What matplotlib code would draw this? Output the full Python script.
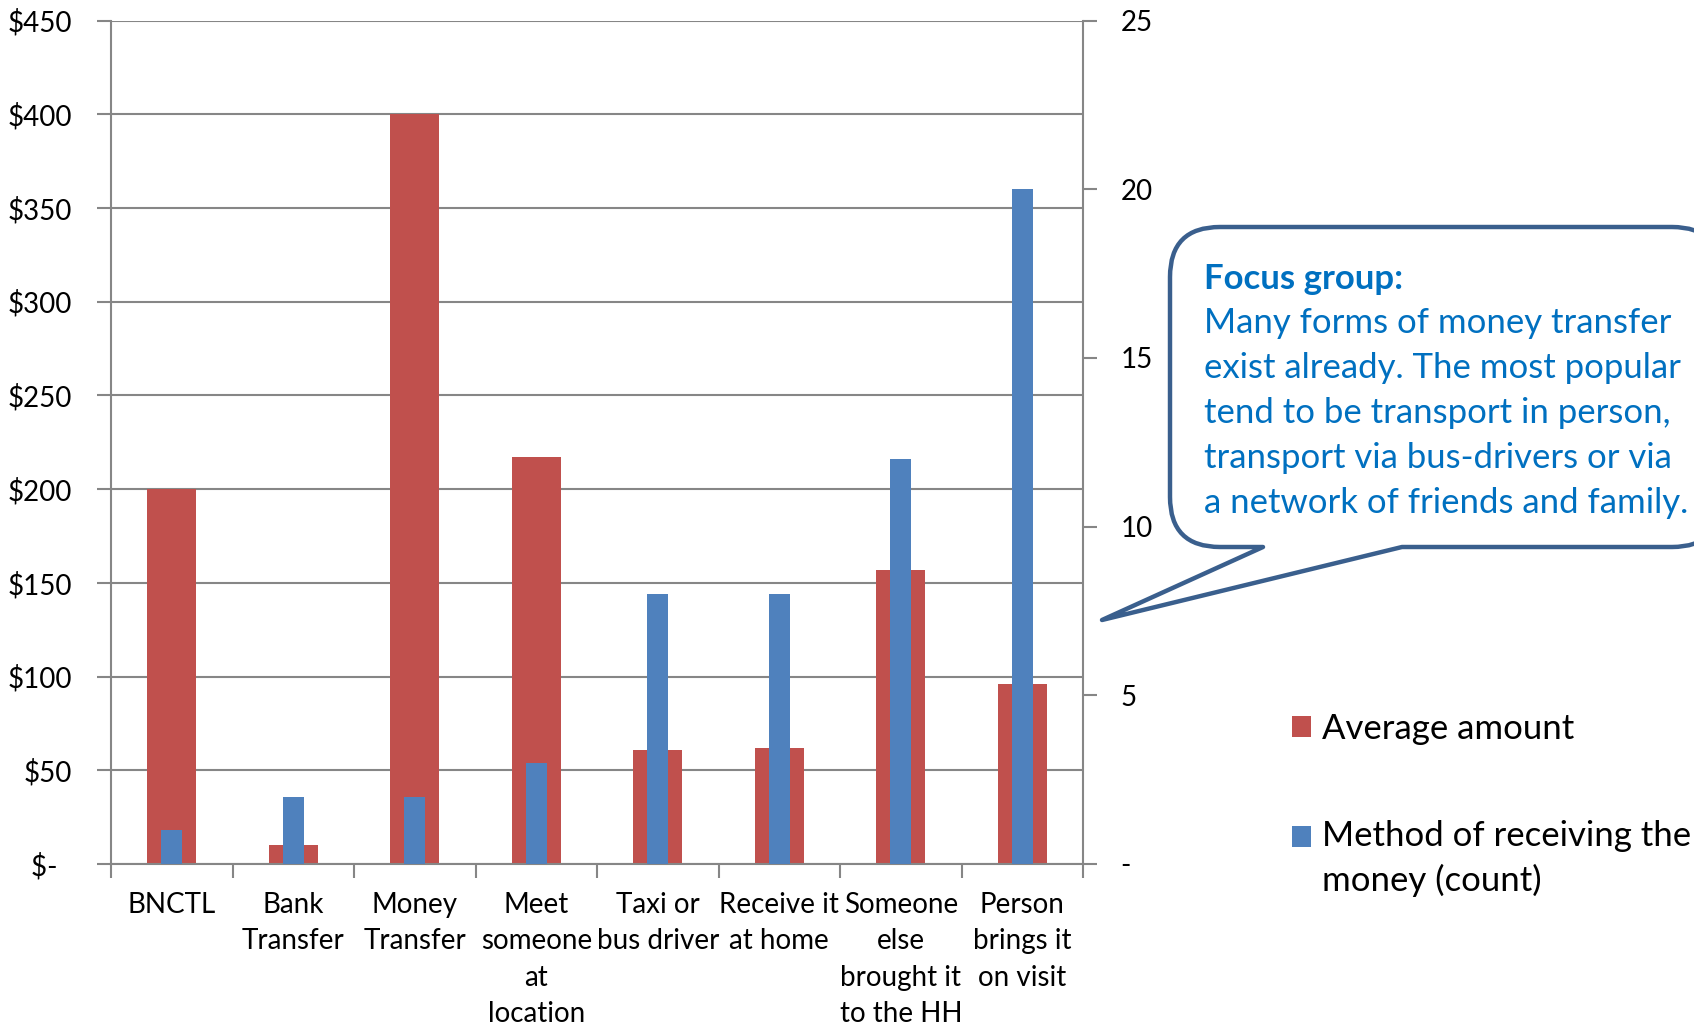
import matplotlib
matplotlib.use("Agg")
import matplotlib.pyplot as plt
import matplotlib.transforms as mtransforms
from matplotlib.path import Path
from matplotlib.patches import PathPatch, Patch, Rectangle
from matplotlib.legend_handler import HandlerPatch
import numpy as np

plt.rcParams['font.family'] = ['Lato', 'DejaVu Sans']

# ---- data ----
categories = ["BNCTL", "Bank\nTransfer", "Money\nTransfer", "Meet\nsomeone\nat\nlocation",
              "Taxi or\nbus driver", "Receive it\nat home", "Someone\nelse\nbrought it\nto the HH",
              "Person\nbrings it\non visit"]
average_amount = [200, 10, 400, 217, 61, 62, 157, 96]
method_count = [1, 2, 2, 3, 8, 8, 12, 20]
left_ticks = [0, 50, 100, 150, 200, 250, 300, 350, 400, 450]
left_tick_labels = ["$-  ", "$50", "$100", "$150", "$200", "$250", "$300", "$350", "$400", "$450"]
right_ticks = [0, 5, 10, 15, 20, 25]
right_tick_labels = ["-", "5", "10", "15", "20", "25"]
legend_labels = ["Average amount", "Method of receiving the\nmoney (count)"]
callout_title = "Focus group:"
callout_body = ("Many forms of money transfer\nexist already. The most popular\n"
                "tend to be transport in person,\ntransport via bus-drivers or via\n"
                "a network of friends and family.")

RED = "#C0504D"
BLUE = "#4F81BD"
GRID = "#868686"
W, H = 1694, 1024

fig = plt.figure(figsize=(W / 100, H / 100), dpi=100)
ax = fig.add_axes([111 / W, 1 - 864 / H, (1083 - 111) / W, (864 - 20.5) / H])
ax2 = ax.twinx()

x = np.arange(len(categories))
ax.bar(x, average_amount, width=0.4, color=RED, zorder=2)
ax2.bar(x, method_count, width=0.17, color=BLUE, zorder=2)

ax.set_xlim(-0.5, len(categories) - 0.5)
ax.set_ylim(0, 450)
ax2.set_ylim(0, 25)

ax.set_axisbelow(True)
ax.yaxis.grid(True, color=GRID, linewidth=1.5)
ax.set_yticks(left_ticks)
ax.set_yticklabels(left_tick_labels)
ax2.set_yticks(right_ticks)
ax2.set_yticklabels(right_tick_labels)

# category boundaries carry the tick marks, centres carry the labels
ax.set_xticks(np.arange(len(categories) + 1) - 0.5)
ax.set_xticklabels([])
ax.set_xticks(x, minor=True)
ax.set_xticklabels(categories, minor=True, fontsize=20, linespacing=1.5, va='top')
ax.tick_params(axis='x', which='major', length=10, width=1.5, color=GRID, direction='out')
ax.tick_params(axis='x', which='minor', length=0, pad=20)
ax.tick_params(axis='y', length=10, width=1.5, color=GRID, labelsize=20, pad=18)
ax2.tick_params(axis='y', length=10, width=1.5, color=GRID, labelsize=20, pad=17)

for a in (ax, ax2):
    a.spines['top'].set_visible(False)
    for s in ('left', 'right', 'bottom'):
        a.spines[s].set_color(GRID)
        a.spines[s].set_linewidth(1.5)
ax.spines['right'].set_visible(False)
ax2.spines['left'].set_visible(False)
ax2.spines['bottom'].set_visible(False)

# legend: squares sit level with the first line of their label
LEG_FS = 25
LEG_LINESPACING = 1.44
LINE_STEP = 22.7 / 25 * LEG_LINESPACING  # distance between label lines, in font sizes


def first_line_square(legend, orig_handle, xdescent, ydescent, width, height, fontsize):
    label = orig_handle.get_label() or ""
    n_lines = label.count("\n") + 1
    shift = 0.5 * LINE_STEP * fontsize * (n_lines - 1)
    return Rectangle((-xdescent, -ydescent + shift), width, height)


handles = [Patch(facecolor=RED, label=legend_labels[0]),
           Patch(facecolor=BLUE, label=legend_labels[1])]
leg = fig.legend(handles=handles, loc='upper left', bbox_to_anchor=(1292 / W, 1 - 713 / H),
                 frameon=False, fontsize=LEG_FS, handlelength=0.55, handleheight=0.55,
                 handletextpad=0.3, labelspacing=2.15, borderpad=0, borderaxespad=0,
                 handler_map={Patch: HandlerPatch(patch_func=first_line_square)})
for t in leg.get_texts():
    t.set_linespacing(LEG_LINESPACING)

# speech-bubble callout, in pixel coordinates measured from the top-left corner
px = mtransforms.Affine2D().scale(1 / W, -1 / H).translate(0, 1) + fig.transFigure
L, R, T, B, r = 1170, 1722, 227, 547, 50
verts = [(L + r, B), (1263, B), (1102, 620), (1402, B), (R - r, B),
         (R, B), (R, B - r), (R, T + r), (R, T), (R - r, T), (L + r, T),
         (L, T), (L, T + r), (L, B - r), (L, B), (L + r, B), (L + r, B)]
codes = [Path.MOVETO, Path.LINETO, Path.LINETO, Path.LINETO, Path.LINETO,
         Path.CURVE3, Path.CURVE3, Path.LINETO, Path.CURVE3, Path.CURVE3, Path.LINETO,
         Path.CURVE3, Path.CURVE3, Path.LINETO, Path.CURVE3, Path.CURVE3, Path.CLOSEPOLY]
bubble = PathPatch(Path(verts, codes), transform=px, facecolor='white',
                   edgecolor='#3A5F8D', linewidth=3.2, joinstyle='round', zorder=5)
fig.add_artist(bubble)

TEXT_BLUE = "#0070C0"
fig.text(1204, 279, callout_title, transform=px, fontsize=25, fontweight='bold',
         color=TEXT_BLUE, va='center', ha='left', zorder=6)
fig.text(1204, 307, callout_body, transform=px, fontsize=25, color=TEXT_BLUE,
         va='top', ha='left', linespacing=1.5, zorder=6)

fig.savefig("out.png", dpi=100)
